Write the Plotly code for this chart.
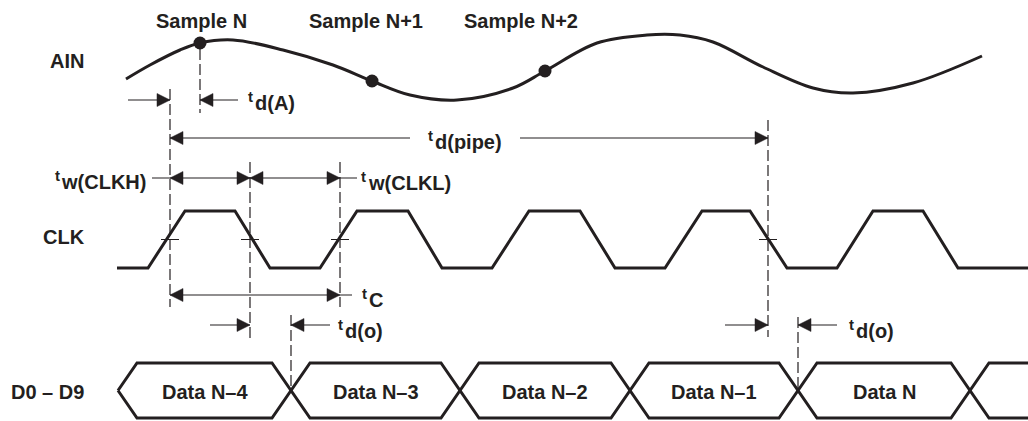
import plotly.graph_objects as go

INK = "#231f20"
FONT = "Liberation Sans"
FS = 20
FS_T = 15

# ---------------- data ----------------
# analog input waveform (time, level)
ain_t = [126, 150, 180, 200, 233, 283, 333, 372, 410, 457, 513, 545, 597, 647, 680, 713, 763, 813, 853, 913, 982]
ain_v = [79, 65, 50, 43, 40, 50, 65, 81, 95, 100, 88, 71, 43, 35, 35, 42, 67, 88, 93, 83, 56]

# sampling instants
sample_t = [200, 372, 545]
sample_v = [43, 81, 71]
sample_labels = ["Sample N", "Sample N+1", "Sample N+2"]

# clock waveform corners (time, logic level)
clk_t = [117, 148, 185, 235, 270, 320, 357, 408, 442, 492, 529, 580, 615, 665, 702, 750, 787, 837, 873, 923, 958, 1028]
clk_level = [0, 0, 1, 1, 0, 0, 1, 1, 0, 0, 1, 1, 0, 0, 1, 1, 0, 0, 1, 1, 0, 0]

# data bus transitions
bus_start = 118
bus_end = 1028
bus_edges = [291, 460, 630, 798, 970]
bus_labels = ["Data N\u20134", "Data N\u20133", "Data N\u20132", "Data N\u20131", "Data N"]

# timing parameter names (subscripts)
timing_subs = ["d(A)", "d(pipe)", "w(CLKH)", "w(CLKL)", "C", "d(o)", "d(o)"]

# timing reference instants
t_clk_rise1 = 170
t_clk_fall1 = 250
t_clk_rise2 = 340
t_clk_fall_pipe = 768

# ---------------- layout constants ----------------
CLK_LOW, CLK_HIGH = 268, 211
CLK_MID = (CLK_LOW + CLK_HIGH) / 2
BUS_TOP, BUS_BOT = 363, 418
BUS_MID = (BUS_TOP + BUS_BOT) / 2
BUS_HALF = 19
AH_L, AH_W = 13, 6.5

fig = go.Figure()

# AIN curve
fig.add_trace(go.Scatter(x=ain_t, y=ain_v, mode="lines",
                         line=dict(color=INK, width=3, shape="spline", smoothing=1.0),
                         hoverinfo="skip"))
fig.add_trace(go.Scatter(x=sample_t, y=sample_v, mode="markers",
                         marker=dict(color=INK, size=13), hoverinfo="skip"))

# CLK
clk_y = [CLK_LOW + l * (CLK_HIGH - CLK_LOW) for l in clk_level]
fig.add_trace(go.Scatter(x=clk_t, y=clk_y, mode="lines",
                         line=dict(color=INK, width=3), hoverinfo="skip"))

# data bus (two interleaved polylines)
upper_x, upper_y, lower_x, lower_y = [bus_start], [BUS_MID], [bus_start], [BUS_MID]
upper_x.append(bus_start + BUS_HALF); upper_y.append(BUS_TOP)
lower_x.append(bus_start + BUS_HALF); lower_y.append(BUS_BOT)
state = 0
for e in bus_edges:
    a, b = (BUS_TOP, BUS_BOT) if state == 0 else (BUS_BOT, BUS_TOP)
    upper_x += [e - BUS_HALF, e + BUS_HALF]; upper_y += [a, b]
    lower_x += [e - BUS_HALF, e + BUS_HALF]; lower_y += [b, a]
    state ^= 1
upper_x.append(bus_end); upper_y.append(upper_y[-1])
lower_x.append(bus_end); lower_y.append(lower_y[-1])
for xs, ys in ((upper_x, upper_y), (lower_x, lower_y)):
    fig.add_trace(go.Scatter(x=xs, y=ys, mode="lines",
                             line=dict(color=INK, width=3), hoverinfo="skip"))

shapes = []


def hline(x0, x1, y, w=1.2):
    shapes.append(dict(type="line", x0=x0, x1=x1, y0=y, y1=y, line=dict(color=INK, width=w)))


def vdash(x, y0, y1):
    shapes.append(dict(type="line", x0=x, x1=x, y0=y0, y1=y1,
                       line=dict(color=INK, width=1.2, dash="11px,4px")))


def head(xt, y, d):
    xb = xt - d * AH_L
    shapes.append(dict(type="path",
                       path=f"M {xt},{y} L {xb},{y - AH_W} L {xb},{y + AH_W} Z",
                       fillcolor=INK, line=dict(color=INK, width=0.5)))


# dashed reference lines
vdash(sample_t[0], sample_v[0] + 6, 113)
vdash(t_clk_rise1, 89, 307)
vdash(t_clk_fall1, 162, 342)
vdash(t_clk_rise2, 162, 307)
vdash(t_clk_fall_pipe, 120, 337)
vdash(bus_edges[0], 315, BUS_MID)
vdash(bus_edges[3], 317, BUS_MID)

# crosshair ticks on clock edges
for xc in (t_clk_rise1, t_clk_fall1, t_clk_rise2, t_clk_fall_pipe):
    hline(xc - 9, xc + 9, CLK_MID, 1)

# td(A)
yA = 100
hline(128, t_clk_rise1, yA); head(t_clk_rise1, yA, +1)
hline(sample_t[0], 238, yA); head(sample_t[0], yA, -1)
# td(pipe)
yP = 138
hline(t_clk_rise1, 410, yP); hline(520, t_clk_fall_pipe, yP)
head(t_clk_rise1, yP, -1); head(t_clk_fall_pipe, yP, +1)
# tw
yW = 178
hline(152, 357, yW)
head(t_clk_rise1, yW, -1); head(t_clk_fall1, yW, +1)
head(t_clk_fall1, yW, -1); head(t_clk_rise2, yW, +1)
# tc
yC = 295
hline(t_clk_rise1, 352, yC)
head(t_clk_rise1, yC, -1); head(t_clk_rise2, yC, +1)
# td(o)
yO = 325
hline(210, t_clk_fall1, yO); head(t_clk_fall1, yO, +1)
hline(bus_edges[0], 330, yO); head(bus_edges[0], yO, -1)
hline(725, t_clk_fall_pipe, yO); head(t_clk_fall_pipe, yO, +1)
hline(bus_edges[3], 837, yO); head(bus_edges[3], yO, -1)

annotations = []


def label(text, x, y, xanchor="center", size=FS):
    annotations.append(dict(text="<b>" + text + "</b>", x=x, y=y, xref="x", yref="y",
                            showarrow=False, xanchor=xanchor, yanchor="middle", borderpad=0,
                            font=dict(family=FONT, size=size, color=INK)))


label("AIN", 67, 61)
label("CLK", 64, 237)
label("D0 \u2013 D9", 47, 392)
for name, xl in zip(sample_labels, [201, 366, 521]):
    label(name, xl, 21)
for i, name in enumerate(bus_labels):
    left = bus_start if i == 0 else bus_edges[i - 1]
    label(name, (left + bus_edges[i]) / 2, BUS_MID + 1)

# timing labels: small raised "t" followed by the parameter subscript
# (t left x, subscript x, subscript anchor, y)
timing_pos = [
    (247, 254, "left", yA + 3),
    (427, 468, "center", yP + 4),
    (54, 147, "right", yW + 4),
    (360, 367, "left", yW + 5),
    (361, 368, "left", yC + 5),
    (337, 344, "left", yO + 6),
    (848, 855, "left", yO + 6),
]
for sub, (xt, xs, anc, y) in zip(timing_subs, timing_pos):
    label("t", xt, y - 7, "left", FS_T)
    label(sub, xs, y, anc)

fig.update_layout(
    width=1028, height=421,
    margin=dict(l=0, r=0, t=0, b=0),
    paper_bgcolor="white", plot_bgcolor="white",
    showlegend=False,
    xaxis=dict(range=[0, 1028], visible=False, fixedrange=True),
    yaxis=dict(range=[421, 0], visible=False, fixedrange=True),
    shapes=shapes, annotations=annotations,
)

fig.write_html("out.html", config={"displayModeBar": False},
               post_script="document.body.style.margin='0';")
